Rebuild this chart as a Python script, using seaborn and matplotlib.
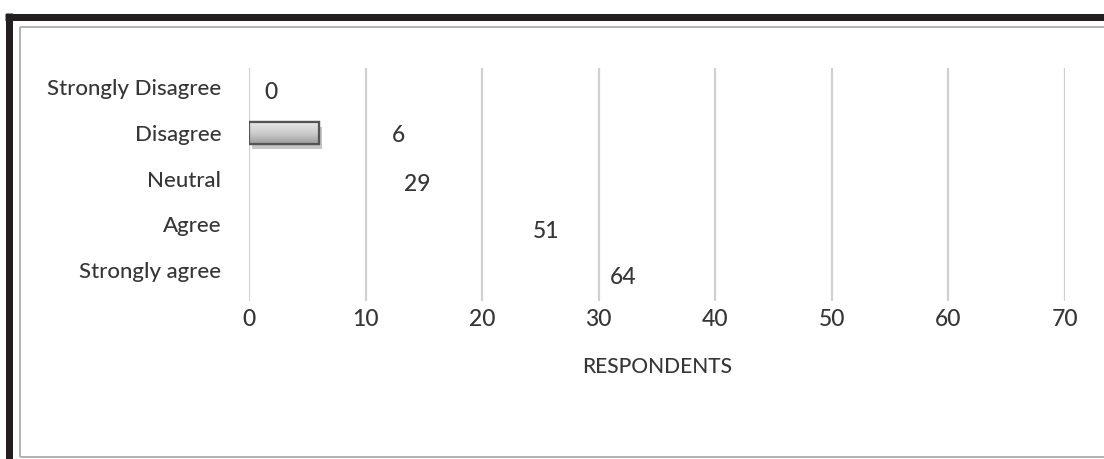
import numpy as np
import matplotlib
matplotlib.use("Agg")
import matplotlib.pyplot as plt
import matplotlib.patheffects as pe
from matplotlib.colors import LinearSegmentedColormap
from matplotlib.lines import Line2D
import seaborn as sns

# Survey responses
categories = ["Strongly Disagree", "Disagree", "Neutral", "Agree", "Strongly agree"]
respondents = [0, 6, 29, 51, 64]
x_ticks = [0, 10, 20, 30, 40, 50, 60, 70]
x_title = "RESPONDENTS"

# Layout (pixels of a 1104x459 canvas)
W, H = 1104, 459
AX_L, AX_R, AX_T, AX_B = 249, 1065, 68, 301
label_x = [1.9, 12.8, 14.4, 25.5, 32.1]      # where each value label sits (data units)
label_dy = [0.12, 0.05, 0.12, 0.15, 0.16]
shown = [False, True, False, False, False]   # bars rendered with a fill

TEXT = "#363636"
GRID = "#d0d0d0"

sns.set_theme(style="white")
plt.rcParams["font.family"] = ["Lato", "DejaVu Sans"]
plt.rcParams["font.weight"] = "medium"

fig = plt.figure(figsize=(W / 100, H / 100), dpi=100)
fig.patch.set_facecolor("white")
ax = fig.add_axes([AX_L / W, 1 - AX_B / H, (AX_R - AX_L) / W, (AX_B - AX_T) / H])

sns.barplot(x=respondents, y=categories, orient="h", ax=ax, width=0.48,
            color="#c4c4c4", saturation=1, zorder=3)

cmap = LinearSegmentedColormap.from_list("bargrad", ["#e8e8e8", "#cccccc", "#9e9e9e"])
for patch, vis in zip(ax.patches, shown):
    if not vis:
        patch.set_facecolor("none")
        patch.set_edgecolor("none")
        continue
    patch.set_edgecolor("#555555")
    patch.set_linewidth(1.6)
    patch.set_path_effects([pe.SimplePatchShadow(offset=(2, -4), shadow_rgbFace="#777777", alpha=0.4),
                            pe.Normal()])
    x0, y0 = patch.get_x(), patch.get_y()
    w, h = patch.get_width(), patch.get_height()
    grad = np.linspace(0, 1, 64).reshape(-1, 1)
    im = ax.imshow(grad, cmap=cmap, aspect="auto", extent=[x0, x0 + w, y0 + h, y0],
                   zorder=3.5, interpolation="bicubic")
    im.set_clip_path(patch)
    edge = plt.Rectangle((x0, y0), w, h, facecolor="none", edgecolor="#555555",
                         linewidth=1.6, zorder=4)
    ax.add_patch(edge)

for i, (v, lx, dy) in enumerate(zip(respondents, label_x, label_dy)):
    ax.text(lx, i + dy, str(v), ha="center", va="center", fontsize=16.5, color=TEXT)

ax.set_xlim(0, 70)
ax.set_ylim(4.68, -0.42)
ax.set_xticks(x_ticks)
ax.set_xticklabels([str(t) for t in x_ticks])
ax.xaxis.grid(True, color=GRID, linewidth=1.6, zorder=0)
ax.yaxis.grid(False)
ax.set_axisbelow(True)
for s in ax.spines.values():
    s.set_visible(False)
ax.tick_params(axis="x", length=0, pad=6, labelsize=16.5, labelcolor=TEXT)
ax.tick_params(axis="y", length=0, pad=20, labelsize=16, labelcolor=TEXT)
ax.set_xlabel("")
ax.set_ylabel("")

fig.text((AX_L + AX_R) / 2 / W, 1 - 367 / H, x_title, ha="center", va="center",
         fontsize=15, color=TEXT)

# Outer frame: heavy dark rule on the left/top, thin grey inner box
def px_line(xs, ys, color, lw):
    fig.add_artist(Line2D([x / W for x in xs], [1 - y / H for y in ys],
                          transform=fig.transFigure, color=color, linewidth=lw,
                          solid_capstyle="butt"))

px_line([8.5, 8.5], [13, H], "#231f20", 7 * 0.72)
px_line([5, W], [16.5, 16.5], "#231f20", 7 * 0.72)
px_line([20, 20], [27, 457], "#b4b4b4", 2 * 0.72)
px_line([20, W], [27, 27], "#b4b4b4", 2 * 0.72)
px_line([20, W], [456.5, 456.5], "#b4b4b4", 2 * 0.72)

fig.savefig("out.png", dpi=100, facecolor="white")
